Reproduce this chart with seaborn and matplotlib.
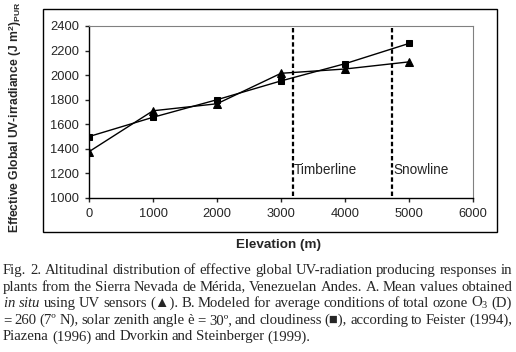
import seaborn as sns
import numpy as np
import matplotlib.pyplot as plt
import pandas as pd
from matplotlib.patches import Rectangle

# elevation (m)
elevation = [0, 1000, 2000, 3000, 4000, 5000]
# A. measured in situ (triangles)
measured = [1377, 1710, 1767, 2015, 2050, 2108]
# B. modeled (squares)
modeled = [1500, 1657, 1800, 1953, 2093, 2258]

timberline = 3180
snowline = 4730

xticks = [0, 1000, 2000, 3000, 4000, 5000, 6000]
yticks = [1000, 1200, 1400, 1600, 1800, 2000, 2200, 2400]

sns.set_style("white")
plt.rcParams['font.family'] = ['Liberation Sans', 'DejaVu Sans']
plt.rcParams['mathtext.fontset'] = 'custom'
plt.rcParams['mathtext.rm'] = 'Liberation Serif'
plt.rcParams['mathtext.it'] = 'Liberation Serif:italic'

fig = plt.figure(figsize=(5.16, 3.52), dpi=100)
ax = fig.add_axes([89/516, 1-198/352, (473-89)/516, (198-26)/352])

df = pd.DataFrame({"elev": elevation, "measured": measured, "modeled": modeled})
sns.lineplot(data=df, x="elev", y="modeled", ax=ax, color="black", lw=1,
             marker="s", markersize=4.6, markeredgecolor="black")
sns.lineplot(data=df, x="elev", y="measured", ax=ax, color="black", lw=1,
             marker="^", markersize=5.6, markeredgecolor="black")

for xv, name in [(timberline, "Timberline"), (snowline, "Snowline")]:
    ax.axvline(xv, color="black", ls=(0, (2, 1.2)), lw=1.6, ymin=0.01, ymax=1.0)
    ax.text(xv + 20, 1230, name, fontsize=9.8, va="center", ha="left")

ax.set_xlim(0, 6000)
ax.set_ylim(1000, 2400)
ax.set_xticks(xticks)
ax.set_yticks(yticks)
ax.tick_params(labelsize=9.3, length=3, width=1, direction="out", pad=4,
               bottom=True, left=True)
for s in ["top", "right"]:
    ax.spines[s].set_color("#808080")
    ax.spines[s].set_linewidth(0.8)
for s in ["left", "bottom"]:
    ax.spines[s].set_color("black")
    ax.spines[s].set_linewidth(1)

ax.set_xlabel("")
ax.set_ylabel("")
fig.text(278/516, 1-245/352, "Elevation (m)", fontsize=9.7, fontweight="bold",
         ha="center", va="center")
fig.text(15/516, 1-117/352, r"Effective Global UV-irradiance (J m$^{\mathregular{2}}$)$_{\mathregular{PUR}}$",
         fontsize=8.7, fontweight="bold", rotation=90, ha="center", va="center")

# outer chart frame
fig.add_artist(Rectangle((43/516, 1-232/352), (497-43)/516, (232-9)/352,
                         transform=fig.transFigure, fill=False, ec="black", lw=1))

# caption, justified between x=3 and x=512 px
caption = [
    "Fig. 2. Altitudinal distribution of effective global UV-radiation producing responses in".split(" "),
    "plants from the Sierra Nevada de Mérida, Venezuelan Andes. A. Mean values obtained".split(" "),
    [r"$\mathit{in\ situ}$"] + r"using UV sensors (▲). B. Modeled for average conditions of total ozone O$_{\mathregular{3}}$ (D)".split(" "),
    "= 260 (7º N), solar zenith angle è = 30º, and cloudiness (■), according to Feister (1994),".split(" "),
    "Piazena (1996) and Dvorkin and Steinberger (1999).".split(" "),
]
renderer = fig.canvas.get_renderer()
x0, x1 = 3, 512
for i, words in enumerate(caption):
    y = 1 - (274 + 16.6*i)/352
    texts = [fig.text(0, y, w, fontsize=10.6, ha="left", va="baseline",
                      family=["Liberation Serif", "DejaVu Sans"]) for w in words]
    widths = [t.get_window_extent(renderer).width for t in texts]
    if i < len(caption) - 1:
        gap = (x1 - x0 - sum(widths)) / (len(words) - 1)
    else:
        gap = 3.3
    x = x0
    for t, w in zip(texts, widths):
        t.set_x(x/516)
        x += w + gap

fig.savefig("out.png", dpi=100)
